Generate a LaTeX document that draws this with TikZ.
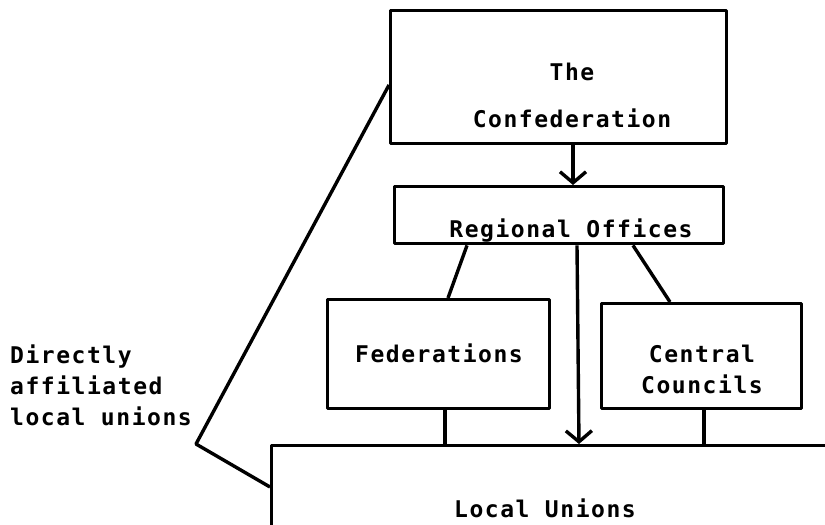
\documentclass[tikz,border=0pt]{standalone}
\usepackage{fontspec}
\newfontfamily\schreibmaschine[LetterSpace=6.7]{DejaVu Sans Mono}
\usetikzlibrary{arrows.meta}
\tikzset{
	kasten/.style={draw, line width=3.4pt, inner sep=0pt, anchor=north west},
	beschriftung/.style={font=\schreibmaschine\bfseries\fontsize{23}{31}\selectfont, inner sep=0pt, anchor=base},
	verbindung/.style={line width=3.4pt},
	pfeil/.style={line width=3.4pt, -{Straight Barb[length=11pt,width=26pt]}}
}
\begin{document}
\begin{tikzpicture}[x=1pt, y=-1pt, line join=round]
	\useasboundingbox (0,0) rectangle (825,525);
	% Kaesten
	\node[kasten, minimum width=336pt, minimum height=133pt] (conf) at (389,9) {};
	\node[kasten, minimum width=329pt, minimum height=57pt] (reg) at (393,185) {};
	\node[kasten, minimum width=222pt, minimum height=109pt] (fed) at (326,298) {};
	\node[kasten, minimum width=200pt, minimum height=105pt] (cen) at (600,302) {};
	\node[kasten, minimum width=600pt, minimum height=100pt] (local) at (270,444) {};
	% Beschriftungen
	\node[beschriftung, align=center] (conftext) at (572,127) {The\\[16pt]Confederation};
	\node[beschriftung] (regtext) at (571,237) {Regional Offices};
	\node[beschriftung] (fedtext) at (439,362) {Federations};
	\node[beschriftung, align=center] (centext) at (702,393) {Central\\Councils};
	\node[beschriftung] (localtext) at (545,517) {Local Unions};
	\node[beschriftung, align=left, anchor=base west] (direkt) at (10,425)
		{Directly\\affiliated\\local unions};
	% Verbindungen
	\draw[pfeil] ([xshift=184pt]conf.south west) -- ([xshift=180pt]reg.north west);
	\draw[pfeil] ([xshift=184pt]reg.south west) -- ([xshift=309pt]local.north west);
	\draw[verbindung] ([xshift=74pt]reg.south west) -- ([xshift=122pt]fed.north west);
	\draw[verbindung] ([xshift=240pt]reg.south west) -- ([xshift=70pt]cen.north west);
	\draw[verbindung] ([xshift=119pt]fed.south west) -- ([xshift=175pt]local.north west);
	\draw[verbindung] ([xshift=104pt]cen.south west) -- ([xshift=434pt]local.north west);
	% direkt angeschlossene Gewerkschaften
	\coordinate (knick) at (196,444);
	\draw[verbindung] ([yshift=-76pt]conf.north west) -- (knick)
		-- ([yshift=-43pt]local.north west);
\end{tikzpicture}
\end{document}
